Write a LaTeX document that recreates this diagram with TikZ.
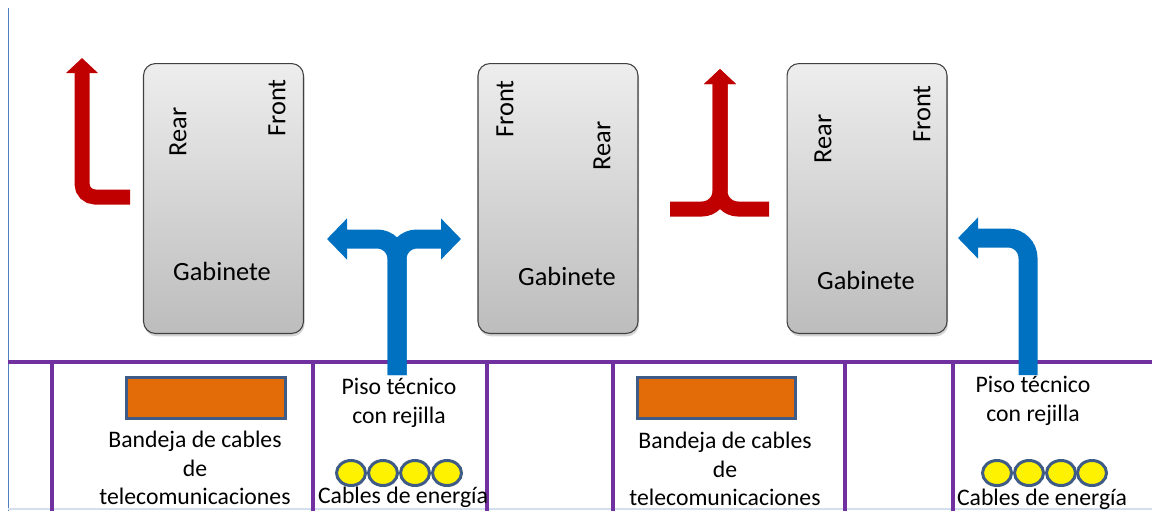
\documentclass[tikz,border=0pt]{standalone}
\usepackage{fontspec}
\setmainfont{Carlito}
\usetikzlibrary{arrows.meta,shapes.geometric,shadows}

\definecolor{flowred}{HTML}{C00000}
\definecolor{flowblue}{HTML}{0070C0}
\definecolor{floorpurple}{HTML}{7030A0}
\definecolor{trayorange}{HTML}{E36C09}
\definecolor{edgeslate}{HTML}{3E5C86}
\definecolor{frameblue}{HTML}{4F81BD}

\tikzset{
  cabinet/.style={draw=black!75, line width=0.6pt, rounded corners=0.24cm,
    top color=black!7, bottom color=black!26, minimum width=3.2cm, minimum height=5.4cm,
    drop shadow={opacity=0.35, shadow xshift=0.6pt, shadow yshift=-1.6pt}},
  boxlabel/.style={font=\fontsize{15}{18}\selectfont, inner sep=0pt},
  sidelabel/.style={boxlabel, rotate=90},
  floorlabel/.style={font=\fontsize{13.5}{16.2}\selectfont, align=center, inner sep=0pt},
  tray/.style={draw=edgeslate, line width=0.06cm, fill=trayorange, minimum width=3.18cm, minimum height=0.82cm},
  powercable/.style={ellipse, draw=edgeslate, line width=0.06cm, fill=yellow, inner sep=0pt,
    minimum width=0.58cm, minimum height=0.5cm},
  redflow/.style={flowred, line width=0.3cm, -{Triangle[width=0.62cm,length=0.3cm]}},
  blueflow/.style={flowblue, line width=0.38cm, rounded corners=0.4cm, -{Triangle[width=0.8cm,length=0.4cm]}},
  floorline/.style={floorpurple, line width=0.08cm},
}

\begin{document}
\begin{tikzpicture}[x=0.02cm, y=-0.02cm]
  \useasboundingbox (0,0) rectangle (1152,511);

  % frame lines
  \draw[frameblue, line width=0.5pt] (8,8) -- (8,511);
  \draw[frameblue!25, line width=0.6pt] (8,509) -- (1152,509);

  % raised floor
  \draw[floorline] (8,362) -- (1152,362);
  \draw[floorline] (52,362) -- (52,511);
  \draw[floorline] (313,362) -- (313,511);
  \draw[floorline] (487,362) -- (487,511);
  \draw[floorline] (613,362) -- (613,511);
  \draw[floorline] (845,362) -- (845,511);
  \draw[floorline] (953,362) -- (953,511);

  % Place the cabinets
  \node[cabinet] (gab1) at (223.5,198.5) {};
  \node[cabinet] (gab2) at (558,198.5) {};
  \node[cabinet] (gab3) at (867,198.5) {};

  \node[boxlabel] (gab1name) at (222,271) {Gabinete};
  \node[sidelabel] (gab1rear) at (178,132) {Rear};
  \node[sidelabel] (gab1front) at (277,108) {Front};

  \node[boxlabel] (gab2name) at (567,276) {Gabinete};
  \node[sidelabel] (gab2front) at (505,109) {Front};
  \node[sidelabel] (gab2rear) at (602,146) {Rear};

  \node[boxlabel] (gab3name) at (866,280) {Gabinete};
  \node[sidelabel] (gab3rear) at (823,139) {Rear};
  \node[sidelabel] (gab3front) at (922,114) {Front};

  % Trays and cables under the floor
  \node[tray] (tray1) at (206,398) {};
  \node[tray] (tray2) at (716.5,398) {};
  \node[floorlabel] (tray1text) at (195,468) {Bandeja de cables\\de\\telecomunicaciones};
  \node[floorlabel] (tray2text) at (725,469) {Bandeja de cables\\de\\telecomunicaciones};

  \node[floorlabel] (grid1text) at (399,403) {Piso técnico\\con rejilla};
  \node[floorlabel] (grid2text) at (1033,401) {Piso técnico\\con rejilla};

  \node[powercable] (pw1a) at (351,473) {};
  \node[powercable] (pw1b) at (383,473) {};
  \node[powercable] (pw1c) at (415,473) {};
  \node[powercable] (pw1d) at (447,473) {};
  \node[powercable] (pw2a) at (997,473) {};
  \node[powercable] (pw2b) at (1029,473) {};
  \node[powercable] (pw2c) at (1061,473) {};
  \node[powercable] (pw2d) at (1092,473) {};
  \node[floorlabel] (pw1text) at (403,497) {Cables de energía};
  \node[floorlabel] (pw2text) at (1042,499) {Cables de energía};

  % hot air (red)
  \coordinate (hotA) at (130,197);
  \coordinate (hotAtip) at (82,58);
  \coordinate (hotBl) at (670,209);
  \coordinate (hotBr) at (769,209);
  \coordinate (hotBtip) at (720,69);
  \draw[redflow, rounded corners=0.26cm] (hotA) -| (hotAtip);
  \draw[redflow, rounded corners=0.36cm] (hotBl) -| (hotBtip);
  \draw[redflow, rounded corners=0.36cm] (hotBr) -| (hotBtip);

  % cold air (blue)
  \coordinate (coldC) at (397,375);
  \coordinate (coldCl) at (327,239);
  \coordinate (coldCr) at (461,239);
  \coordinate (coldD) at (1028,375);
  \coordinate (coldDtip) at (958,238);
  \draw[blueflow] (coldC) |- (coldCl);
  \draw[blueflow] (coldC) |- (coldCr);
  \draw[blueflow] (coldD) |- (coldDtip);
\end{tikzpicture}
\end{document}
